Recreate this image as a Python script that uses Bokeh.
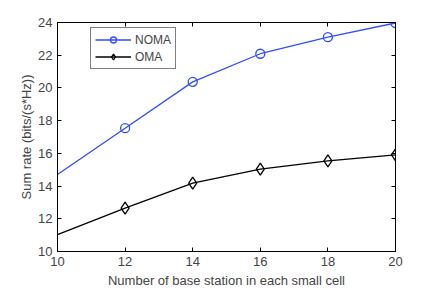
from bokeh.plotting import figure
from bokeh.models import LinearAxis, FixedTicker, Range1d, Legend, LegendItem, ColumnDataSource
from bokeh.embed import file_html
from bokeh.resources import INLINE

x_line = [10, 12, 14, 16, 18, 20]
noma = [14.71, 17.54, 20.37, 22.09, 23.10, 23.97]
oma = [11.03, 12.65, 14.18, 15.03, 15.54, 15.91]
x_ticks = [10, 12, 14, 16, 18, 20]
y_ticks = [10, 12, 14, 16, 18, 20, 22, 24]

FONT = "Liberation Sans"
BLUE = "#2f4dff"

p = figure(width=436, height=291, output_backend="svg", toolbar_location=None,
           x_range=Range1d(10, 20), y_range=Range1d(10, 24),
           min_border_left=57, min_border_right=41, min_border_top=22, min_border_bottom=40,
           x_axis_label="Number of base station in each small cell",
           y_axis_label="Sum rate (bits/(s*Hz))")
p.xgrid.visible = False
p.ygrid.visible = False
p.outline_line_color = "black"
p.outline_line_width = 1

for ax in list(p.xaxis) + list(p.yaxis):
    ax.major_tick_in = 4
    ax.major_tick_out = 0
    ax.minor_tick_in = 0
    ax.minor_tick_out = 0
    ax.major_label_text_font = FONT
    ax.major_label_text_font_size = "13px"
    ax.axis_label_text_font = FONT
    ax.axis_label_text_font_size = "13px"
    ax.axis_label_text_font_style = "normal"
    ax.axis_line_color = "black"
    ax.major_tick_line_color = "black"
p.xaxis.ticker = FixedTicker(ticks=x_ticks)
p.yaxis.ticker = FixedTicker(ticks=y_ticks)
p.xaxis.major_label_standoff = 5
p.xaxis.axis_label_standoff = 4
p.yaxis.major_label_standoff = 5
p.yaxis.axis_label_standoff = 1

top = LinearAxis(ticker=FixedTicker(ticks=x_ticks),
                 major_label_overrides={t: "" for t in x_ticks},
                 major_tick_in=4, major_tick_out=0, minor_tick_in=0, minor_tick_out=0)
right = LinearAxis(ticker=FixedTicker(ticks=y_ticks),
                   major_label_overrides={t: "" for t in y_ticks},
                   major_tick_in=4, major_tick_out=0, minor_tick_in=0, minor_tick_out=0)
p.add_layout(top, "above")
p.add_layout(right, "right")

src_n = ColumnDataSource(dict(x=x_line, y=noma))
src_o = ColumnDataSource(dict(x=x_line, y=oma))
mk_n = ColumnDataSource(dict(x=x_line[1:], y=noma[1:]))
mk_o = ColumnDataSource(dict(x=x_line[1:], y=oma[1:]))

ln_n = p.line("x", "y", source=src_n, line_color=BLUE, line_width=1.3)
sc_n = p.scatter("x", "y", source=mk_n, marker="circle", size=9, line_color=BLUE,
                 fill_alpha=0, line_width=1.3)
ln_o = p.line("x", "y", source=src_o, line_color="black", line_width=1.3)
sc_o = p.scatter("x", "y", source=mk_o, marker="diamond", size=12, line_color="black",
                 fill_alpha=0, line_width=1.3)

legend = Legend(items=[LegendItem(label="NOMA", renderers=[ln_n, sc_n]),
                       LegendItem(label="OMA", renderers=[ln_o, sc_o])],
                location=(33, 182))
legend.label_text_font = FONT
legend.label_text_font_size = "12px"
legend.glyph_width = 36
legend.glyph_height = 15
legend.label_height = 15
legend.label_standoff = 4
legend.spacing = 2
legend.padding = 4
legend.margin = 0
legend.border_line_color = "black"
legend.border_line_width = 1
p.add_layout(legend, "center")

open("out.html", "w").write(file_html(p, INLINE))
